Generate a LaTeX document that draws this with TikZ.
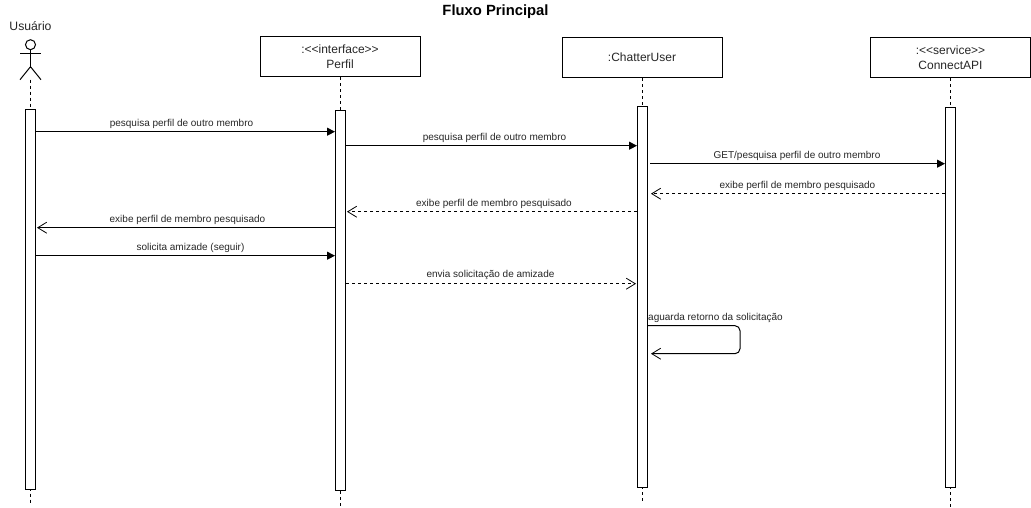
\documentclass[tikz,border=0pt]{standalone}
\usepackage{fontspec}
\setmainfont{Liberation Sans}
\usetikzlibrary{positioning,arrows.meta}

\tikzset{
  objbox/.style = {draw, line width=1pt, minimum width=160pt, minimum height=40pt, inner sep=0pt, align=center, font=\fontsize{12}{14.5}\selectfont, text=black!85},
  actbar/.style = {draw, line width=1pt, fill=white, minimum width=10pt, inner sep=0pt, anchor=north},
  lifeline/.style = {line width=0.8pt, dash pattern=on 3pt off 3pt},
  msgcall/.style = {line width=1pt, -{Triangle[length=8pt,width=8pt]}},
  msgopen/.style = {line width=1pt, -{Straight Barb[length=9pt,width=11pt,line width=0.8pt]}},
  msgback/.style = {msgopen, dash pattern=on 3pt off 3pt},
  msgtext/.style = {font=\fontsize{10}{12}\selectfont, text=black!85, inner sep=0pt}
}

\begin{document}
\begin{tikzpicture}[x=1pt, y=-1pt]
\useasboundingbox (0,-0.7) rectangle (1031,507.3);

\node[font=\fontsize{14.8}{17}\selectfont\bfseries] (title) at (495.5,11) {Fluxo Principal};

% actor
\node[font=\fontsize{12.2}{15}\selectfont, text=black!85] (userName) at (30.5,25.5) {Usuário};
\node[draw, circle, line width=1pt, minimum size=10pt, inner sep=0pt] (userHead) at (30.5,44) {};
\coordinate (userHip) at (30.5,66);
\coordinate (userFoot) at (30.5,79);
\draw[line width=1pt] (userHead.south) -- (userHip);
\draw[line width=1pt] (20,52.5) -- (41,52.5);
\draw[line width=1pt] (20,79) -- (userHip) -- (41,79);

% objects
\node[objbox] (perfil) at (340,56) {:{<}{<}interface{>}{>}\\Perfil};
\node[objbox] (chatter) at (642,57) {:ChatterUser};
\node[objbox] (connect) at (950.5,57) {:{<}{<}service{>}{>}\\ConnectAPI};

% lifelines ends
\coordinate (userEnd) at (30.5,503);
\coordinate (perfilEnd) at (340,506);
\coordinate (chatterEnd) at (642,503);
\coordinate (connectEnd) at (950.5,506);

\draw[lifeline] (userFoot) -- (userEnd);
\draw[lifeline] (perfil.south) -- (perfilEnd);
\draw[lifeline] (chatter.south) -- (chatterEnd);
\draw[lifeline] (connect.south) -- (connectEnd);

% activation bars
\node[actbar, minimum height=380pt] (userBar) at (30.5,108.3) {};
\node[actbar, minimum height=380pt] (perfilBar) at (340.5,109.3) {};
\node[actbar, minimum height=381pt] (chatterBar) at (642.5,105.3) {};
\node[actbar, minimum height=380pt] (connectBar) at (950.5,106.3) {};

% messages
\foreach \name/\ypos in {a/131,b/145,c/163,d/193,e/211,f/227,g/255,h/283,i/325,j/353}
  \coordinate (row\name) at (0,\ypos);

\draw[msgcall] (userBar.east |- rowa) -- (perfilBar.west |- rowa);
\node[msgtext] (labela) at (181.5,123) {pesquisa perfil de outro membro};

\draw[msgcall] (perfilBar.east |- rowb) -- (chatterBar.west |- rowb);
\node[msgtext] (labelb) at (494.5,137) {pesquisa perfil de outro membro};

\draw[msgcall, shorten <=2pt] (chatterBar.east |- rowc) -- (connectBar.west |- rowc);
\node[msgtext] (labelc) at (797,155.5) {GET/pesquisa perfil de outro membro};

\draw[msgback, shorten >=3pt] (connectBar.west |- rowd) -- (chatterBar.east |- rowd);
\node[msgtext] (labeld) at (797.5,185.5) {exibe perfil de membro pesquisado};

\draw[msgback, shorten >=1pt] (chatterBar.west |- rowe) -- (perfilBar.east |- rowe);
\node[msgtext] (labele) at (494,203) {exibe perfil de membro pesquisado};

\draw[msgopen, shorten >=1pt] (perfilBar.west |- rowf) -- (userBar.east |- rowf);
\node[msgtext] (labelf) at (187.5,219) {exibe perfil de membro pesquisado};

\draw[msgcall] (userBar.east |- rowg) -- (perfilBar.west |- rowg);
\node[msgtext] (labelg) at (190.5,247.5) {solicita amizade (seguir)};

\draw[msgback, shorten >=1pt] (perfilBar.east |- rowh) -- (chatterBar.west |- rowh);
\node[msgtext] (labelh) at (490.5,274) {envia solicitação de amizade};

\draw[msgopen, rounded corners=5pt, shorten >=3pt] (chatterBar.east |- rowi) -- (740,325) -- (740,353) -- (chatterBar.east |- rowj);
\node[msgtext, anchor=west] (labeli) at (648,317) {aguarda retorno da solicitação};
\end{tikzpicture}
\end{document}
